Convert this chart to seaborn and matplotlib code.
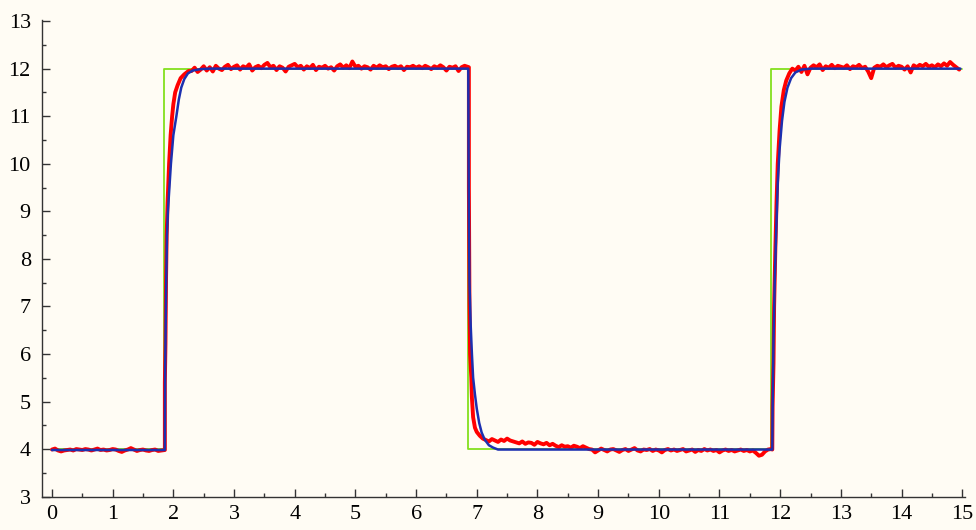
import numpy as np
import pandas as pd
import seaborn as sns
import matplotlib
matplotlib.use("Agg")
import matplotlib.pyplot as plt
from matplotlib.ticker import MultipleLocator

# ---- setpoint (green step) ----
set_t = [0.0, 1.85, 1.85, 6.85, 6.85, 11.85, 11.85, 15.0]
set_v = [4.0, 4.0, 12.0, 12.0, 4.0, 4.0, 12.0, 12.0]

# ---- model response (blue) ----
model_t = [0.0, 1.86, 1.865, 1.88, 1.895, 1.91, 1.935, 1.96, 2.0, 2.05, 2.09, 2.13, 2.18, 2.24, 2.32, 2.45, 2.6,
           6.86, 6.865, 6.87, 6.88, 6.90, 6.92, 6.94, 6.97, 7.0, 7.04, 7.08, 7.13, 7.2, 7.27, 7.35,
           11.87, 11.875, 11.89, 11.91, 11.935, 11.96, 11.99, 12.03, 12.07, 12.12, 12.18, 12.25, 12.35, 12.5, 14.97]
model_v = [3.98, 3.98, 5.7, 7.3, 8.5, 9.0, 9.5, 10.0, 10.6, 11.0, 11.35, 11.6, 11.78, 11.9, 11.96, 11.99, 12.0,
           12.0, 10.2, 9.0, 7.5, 6.6, 6.0, 5.5, 5.15, 4.85, 4.55, 4.35, 4.2, 4.08, 4.03, 3.99,
           3.99, 4.8, 6.3, 7.5, 8.6, 9.6, 10.3, 10.9, 11.3, 11.6, 11.8, 11.92, 11.98, 12.0, 12.0]

# ---- measured signal (red), plateaus sampled every 0.05 ----
red_low1 = [3.99, 4.01, 3.97, 3.95, 3.97, 3.98, 3.99, 3.97, 4.00, 3.99,
            3.98, 4.00, 3.99, 3.97, 3.99, 4.01, 3.98, 3.99, 3.97, 3.98,
            4.00, 3.99, 3.96, 3.94, 3.97, 3.99, 4.02, 3.99, 3.96, 3.98,
            3.99, 3.97, 3.96, 3.98, 3.99, 3.96, 3.97, 3.98]          # from t=0.00
rise1_t = [1.86, 1.86, 1.87, 1.88, 1.89, 1.905, 1.93, 1.955, 1.98, 2.00, 2.03, 2.07, 2.12, 2.18, 2.25]
rise1_v = [3.98, 5.4, 6.2, 7.6, 8.5, 9.2, 10.0, 10.6, 11.0, 11.25, 11.5, 11.65, 11.8, 11.88, 11.95]
red_high1 = [11.95, 12.02, 11.93, 11.98, 12.05, 11.96, 12.03, 11.94, 12.06, 12.00, 11.97, 12.04, 12.08, 11.99,
             12.04, 12.07, 11.98, 12.05, 12.02, 12.09, 11.96, 12.03, 12.06, 12.01,
             12.08, 12.12, 12.03, 12.06, 11.97, 12.05, 12.02, 11.94, 12.04, 12.07,
             12.10, 12.03, 12.06, 11.98, 12.05, 12.01, 12.08, 11.97, 12.04, 12.02,
             12.06, 12.00, 12.03, 11.96, 12.05, 12.09, 12.02, 12.07, 12.01, 12.15,
             12.04, 12.06, 12.00, 12.05, 12.03, 11.98, 12.06, 12.02, 12.07, 12.03,
             12.05, 11.99, 12.04, 12.06, 12.02, 12.05, 11.97, 12.04, 12.03, 12.06,
             12.02, 12.05, 12.01, 12.06, 12.03, 11.99, 12.05, 12.02, 12.07, 12.03,
             11.96, 12.04, 12.02, 12.05, 11.95, 12.03, 12.06, 12.04]   # from t=2.30
fall_t = [6.87, 6.87, 6.88, 6.89, 6.91, 6.92, 6.94, 6.97, 7.0, 7.05, 7.10]
fall_v = [12.03, 9.5, 7.0, 6.0, 5.5, 5.08, 4.67, 4.45, 4.36, 4.28, 4.22]
red_low2 = [4.19, 4.16, 4.21, 4.18, 4.15, 4.20, 4.17, 4.22, 4.18, 4.16,
            4.14, 4.12, 4.16, 4.11, 4.14, 4.13, 4.09, 4.15, 4.12, 4.10, 4.13, 4.08, 4.11,
            4.07, 4.04, 4.08, 4.05, 4.06, 4.03, 4.07, 4.05, 4.02, 4.06, 4.03,
            4.00, 3.99, 3.93, 3.97, 4.01, 3.98, 3.95, 3.99, 4.00, 3.97,
            3.94, 3.98, 4.00, 3.96, 3.99, 4.02, 3.97, 3.95, 3.99, 3.98,
            4.00, 3.96, 3.99, 3.97, 3.93, 3.98, 4.00, 3.97, 3.99, 3.96,
            3.98, 4.00, 3.95, 3.97, 3.99, 3.94, 3.98, 3.96, 4.00, 3.97,
            3.99, 3.96, 3.98, 3.93, 3.97, 3.99, 3.96, 3.98, 3.95, 3.97,
            3.99, 3.96, 3.98, 3.95, 3.97,
            3.92, 3.86, 3.88, 3.95, 3.99, 4.00]                       # from t=7.15
rise2_t = [11.87, 11.875, 11.89, 11.90, 11.92, 11.94, 11.96, 11.99, 12.02, 12.06, 12.10, 12.15, 12.20]
rise2_v = [3.99, 4.9, 5.8, 7.0, 8.2, 9.2, 10.0, 10.7, 11.2, 11.55, 11.75, 11.9, 12.0]
red_high2 = [11.96, 12.04, 11.93, 12.06, 11.88, 12.02,
             12.07, 12.03, 12.09, 11.97, 12.05, 12.02, 12.08, 12.01, 12.06, 12.04,
             12.02, 12.07, 11.99, 12.05, 12.03, 12.08, 12.01, 12.04, 11.94, 11.80,
             12.02, 12.06, 12.04, 12.09, 12.03, 12.07, 12.10, 12.02, 12.06, 12.04,
             11.98, 12.05, 11.92, 12.07, 12.03, 12.08, 12.05, 12.10, 12.04, 12.07,
             12.03, 12.09, 12.05, 12.11, 12.06, 12.14, 12.08, 12.03, 11.98]   # from t=12.25

dt = 0.05
red_t = np.concatenate([0.0 + dt * np.arange(len(red_low1)), rise1_t,
                        2.30 + dt * np.arange(len(red_high1)), fall_t,
                        7.15 + dt * np.arange(len(red_low2)), rise2_t,
                        12.25 + dt * np.arange(len(red_high2))])
red_v = np.concatenate([red_low1, rise1_v, red_high1, fall_v, red_low2, rise2_v, red_high2])

df_set = pd.DataFrame({"t": set_t, "v": set_v})
df_model = pd.DataFrame({"t": model_t, "v": model_v})
df_red = pd.DataFrame({"t": red_t, "v": red_v})

bg = "#fffcf4"
sns.set_style("ticks")
plt.rcParams["font.family"] = ["Liberation Serif", "DejaVu Serif"]

fig = plt.figure(figsize=(9.76, 5.30), dpi=100, facecolor=bg)
ax = fig.add_axes([0.043, 0.063, 0.946, 0.899])
ax.set_facecolor(bg)

sns.lineplot(data=df_set, x="t", y="v", sort=False, estimator=None, color="#84e01e", lw=1.3, ax=ax, zorder=1)
sns.lineplot(data=df_red, x="t", y="v", sort=False, estimator=None, color="#ff0000", lw=2.8, ax=ax, zorder=2)
sns.lineplot(data=df_model, x="t", y="v", sort=False, estimator=None, color="#1c30b0", lw=1.8, ax=ax, zorder=3)

ax.set_xlim(-0.165, 15.05)
ax.set_ylim(3, 13.02)
ax.xaxis.set_major_locator(MultipleLocator(1))
ax.xaxis.set_minor_locator(MultipleLocator(0.5))
ax.yaxis.set_major_locator(MultipleLocator(1))
ax.yaxis.set_minor_locator(MultipleLocator(0.5))
ax.tick_params(which="both", direction="in", color="#333333", labelcolor="black", labelsize=16, width=1)
ax.tick_params(which="major", length=6)
ax.tick_params(which="minor", length=3)
ax.tick_params(axis="y", pad=8)
ax.tick_params(axis="x", pad=6)
for s in ["top", "right"]:
    ax.spines[s].set_visible(False)
for s in ["left", "bottom"]:
    ax.spines[s].set_color("#333333")
    ax.spines[s].set_linewidth(1)
ax.set_xlabel("")
ax.set_ylabel("")

fig.savefig("out.png", dpi=100, facecolor=bg)
